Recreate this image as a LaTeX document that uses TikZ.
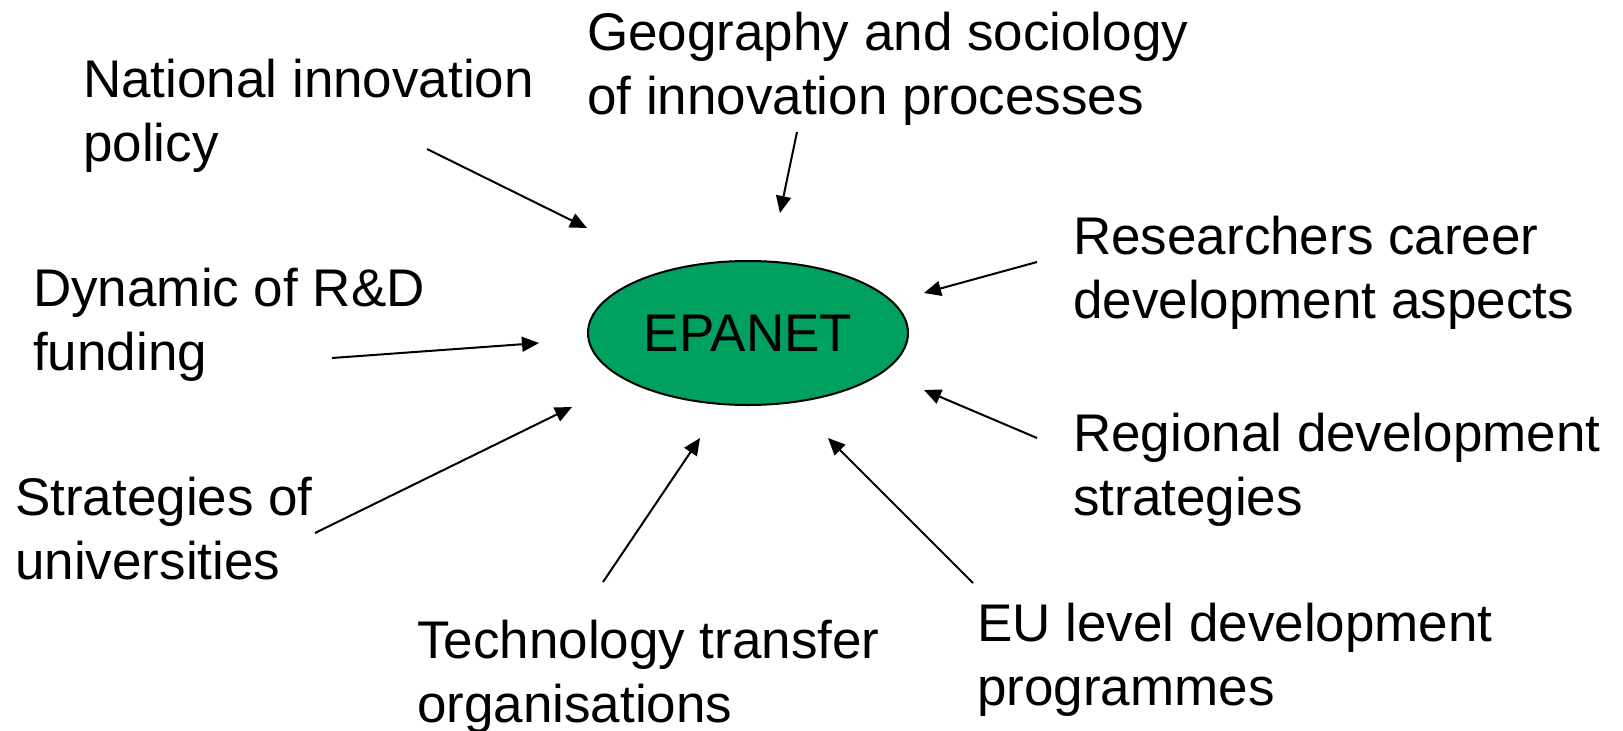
\documentclass[tikz,border=0pt]{standalone}
\usepackage{fontspec}
\setmainfont{Liberation Sans}
\usetikzlibrary{arrows.meta,shapes.geometric}
\definecolor{hubgreen}{RGB}{0,160,96}
\begin{document}
\begin{tikzpicture}[x=1pt,y=-1pt,
  label/.style={anchor=base west,align=left,inner sep=0pt,
    font=\fontsize{53}{63.5}\selectfont},
  hub/.style={ellipse,draw=black,line width=2pt,fill=hubgreen,
    minimum width=320pt,minimum height=144pt,inner sep=0pt,
    font=\fontsize{53}{63.5}\selectfont},
  feed/.style={line width=2pt,-{Triangle[length=17pt,width=15pt]}}]
\useasboundingbox (0,0) rectangle (1623,731);

% central hub
\node[hub] (epanet) at (748,333) {EPANET};

% surrounding topics (anchored at the baseline of the last line)
\node[label] (nat) at (83,161)   {National innovation\\policy};
\node[label] (geo) at (587,114)  {Geography and sociology\\of innovation processes};
\node[label] (res) at (1073,318) {Researchers career\\development aspects};
\node[label] (dyn) at (33,370)   {Dynamic of R\&D\\funding};
\node[label] (reg) at (1073,515) {Regional development\\strategies};
\node[label] (str) at (15,579)   {Strategies of\\universities};
\node[label] (tec) at (417,722)  {Technology transfer\\organisations};
\node[label] (eu)  at (977,705)  {EU level development\\programmes};

% arrow ends
\coordinate (natA) at (427,149);  \coordinate (natB) at (587,228);
\coordinate (geoA) at (797,132);  \coordinate (geoB) at (780,213);
\coordinate (resA) at (1037,262); \coordinate (resB) at (924,293);
\coordinate (regA) at (1037,438); \coordinate (regB) at (924,390);
\coordinate (dynA) at (332,358);  \coordinate (dynB) at (539,343);
\coordinate (strA) at (315,533);  \coordinate (strB) at (572,407);
\coordinate (tecA) at (603,582);  \coordinate (tecB) at (700,438);
\coordinate (euA)  at (973,583);  \coordinate (euB)  at (828,438);

\foreach \n in {nat,geo,res,reg,dyn,str,tec,eu}
  \draw[feed] (\n A) -- (\n B);
\end{tikzpicture}
\end{document}
